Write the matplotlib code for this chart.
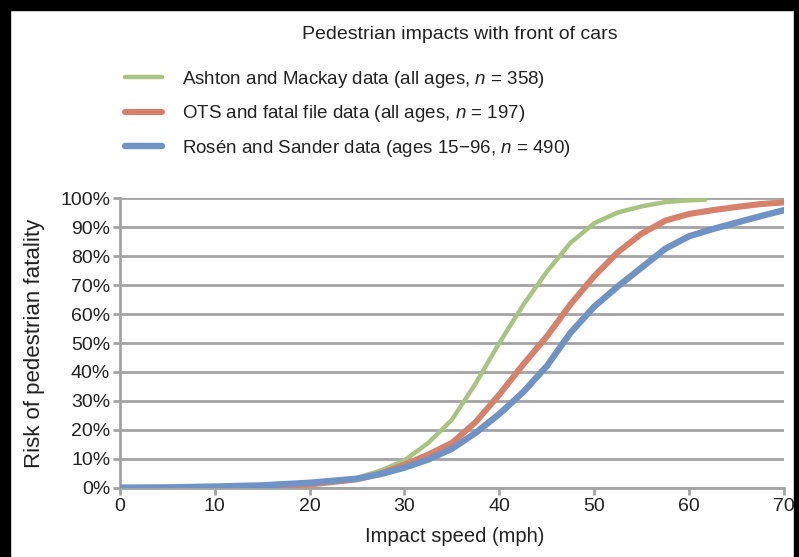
import matplotlib
matplotlib.use("Agg")
import matplotlib.pyplot as plt
from matplotlib.patches import Rectangle
from matplotlib.ticker import PercentFormatter

# Risk of pedestrian fatality (%) vs impact speed (mph)
ashton_speed = [0, 5, 10, 15, 20, 25, 27.5, 30, 32.5, 35, 37.5, 40, 42.5, 45,
                47.5, 50, 52.5, 55, 57.5, 60, 61.7]
ashton_risk = [0.1, 0.2, 0.4, 0.8, 1.6, 3.5, 6, 9.5, 15.5, 23.5, 36, 50, 63,
               74.5, 84.5, 91.3, 95, 97.1, 98.6, 99.2, 99.4]

ots_speed = [0, 5, 10, 15, 20, 25, 27.5, 30, 32.5, 35, 37.5, 40, 42.5, 45,
             47.5, 50, 52.5, 55, 57.5, 60, 62.5, 65, 67.5, 70]
ots_risk = [0.02, 0.05, 0.15, 0.5, 1.2, 3, 5, 8, 11.5, 15.5, 22.7, 32.2, 42.5,
            52.2, 63.3, 73, 81.3, 87.7, 92.2, 94.5, 95.8, 96.9, 97.9, 98.5]

rosen_speed = [0, 5, 10, 15, 20, 25, 27.5, 30, 32.5, 35, 37.5, 40, 42.5, 45,
               47.5, 50, 52.5, 55, 57.5, 60, 62.5, 65, 67.5, 70]
rosen_risk = [0.1, 0.2, 0.5, 0.9, 1.8, 3.2, 4.8, 7, 9.8, 13.5, 19, 25.5, 33,
              42, 53.5, 62.5, 69.5, 76, 82.5, 86.8, 89.3, 91.5, 93.7, 95.8]

labels = [
    "Ashton and Mackay data (all ages, $\\it{n}$ = 358)",
    "OTS and fatal file data (all ages, $\\it{n}$ = 197)",
    "Rosén and Sander data (ages 15\u221296, $\\it{n}$ = 490)",
]
colors = ["#a9c381", "#d6826a", "#6f93c4"]
widths = [3.2, 4.4, 4.6]

plt.rcParams["font.family"] = ["Liberation Sans", "DejaVu Sans"]
plt.rcParams["mathtext.fontset"] = "custom"
plt.rcParams["mathtext.it"] = "Liberation Sans:italic"

fig = plt.figure(figsize=(7.99, 5.57), dpi=100)
ax = fig.add_axes([0.150, 0.1239, 0.831, 0.5206])

grid_col = "#a3a3a3"
text_col = "#222222"
lines = []
for xs, ys, c, w, lab in zip([ashton_speed, ots_speed, rosen_speed],
                             [ashton_risk, ots_risk, rosen_risk],
                             colors, widths, labels):
    ln, = ax.plot(xs, ys, color=c, lw=w, solid_capstyle="round",
                  solid_joinstyle="round", label=lab, zorder=3)
    lines.append(ln)

ax.set_xlim(0, 70)
ax.set_ylim(0, 100)
ax.set_xticks(range(0, 71, 10))
ax.set_yticks(range(0, 101, 10))
ax.yaxis.set_major_formatter(PercentFormatter(decimals=0))
ax.grid(axis="y", color=grid_col, lw=2.0, zorder=1)
ax.set_axisbelow(True)
for s in ["top", "right"]:
    ax.spines[s].set_visible(False)
for s in ["left", "bottom"]:
    ax.spines[s].set_color(grid_col)
    ax.spines[s].set_linewidth(2.0)
ax.tick_params(axis="both", colors=grid_col, width=2.0, length=5,
               labelcolor=text_col, labelsize=14, pad=2)

ax.set_xlabel("Impact speed (mph)", fontsize=14.5, color=text_col)
ax.set_ylabel("Risk of pedestrian fatality", fontsize=16, color=text_col)
ax.xaxis.set_label_coords(0.505, -0.169)
ax.xaxis.label.set_va("center")
ax.yaxis.set_label_coords(-0.128, 0.5)
ax.yaxis.label.set_va("center")

fig.text(0.576, 0.938, "Pedestrian impacts with front of cars",
         ha="center", va="center", fontsize=14, color=text_col)
fig.legend(handles=lines, loc="upper left", bbox_to_anchor=(0.135, 0.907),
           frameon=False, fontsize=13.5, handlelength=2.0, handletextpad=1.05,
           labelspacing=0.72, labelcolor=text_col)

# black frame strips around the scanned image
fig.patches.append(Rectangle((0, 0), 10 / 799, 1, transform=fig.transFigure,
                             color="black", zorder=10))
fig.patches.append(Rectangle((0, 1 - 10 / 557), 1, 10 / 557, transform=fig.transFigure,
                             color="black", zorder=10))
fig.patches.append(Rectangle((1 - 5 / 799, 0), 5 / 799, 1, transform=fig.transFigure,
                             color="black", zorder=10))

fig.savefig("out.png", dpi=100)
